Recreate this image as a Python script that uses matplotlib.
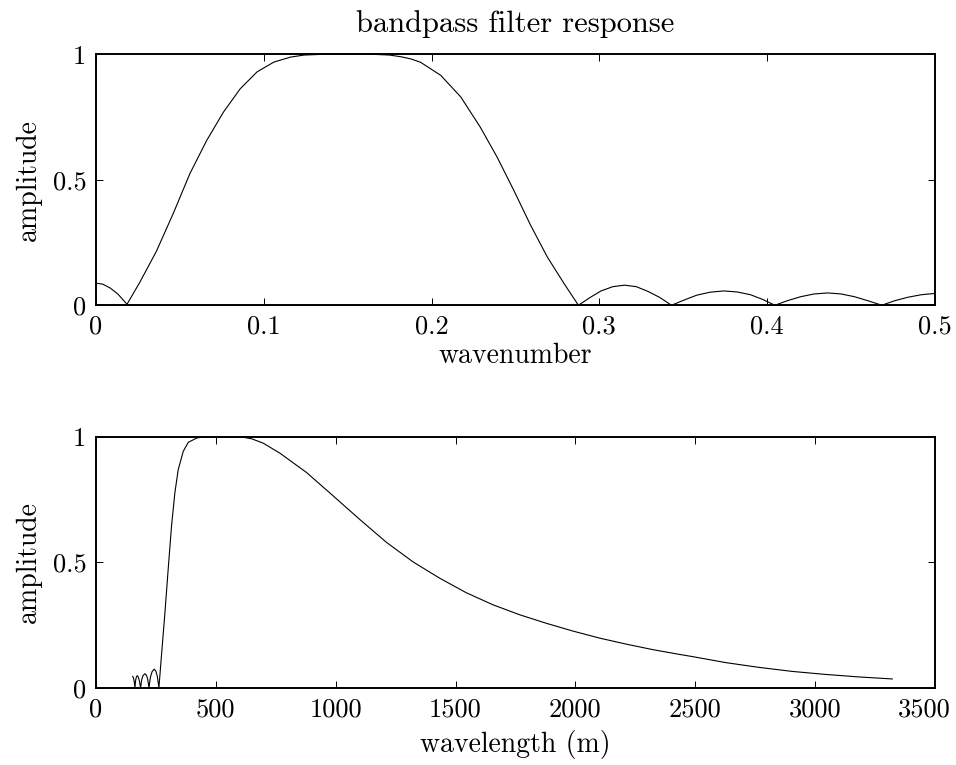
import matplotlib
matplotlib.use("Agg")
import matplotlib.pyplot as plt
from matplotlib.transforms import ScaledTranslation

plt.rcParams['font.family'] = 'serif'
plt.rcParams['font.serif'] = ['cmr10', 'DejaVu Serif']
plt.rcParams['axes.unicode_minus'] = False

# top panel: amplitude against wavenumber
wavenumber = [0.0, 0.004, 0.0084, 0.013, 0.0185, 0.026, 0.036, 0.046, 0.056, 0.066,
              0.076, 0.086, 0.096, 0.106, 0.116, 0.124, 0.135, 0.150, 0.165, 0.175,
              0.182, 0.188, 0.1935, 0.2055, 0.2174, 0.229, 0.239, 0.249, 0.259, 0.269, 0.279,
              0.2875, 0.2945, 0.301, 0.308, 0.315, 0.322, 0.329, 0.336, 0.343,
              0.351, 0.358, 0.366, 0.374, 0.382, 0.390, 0.397, 0.4046,
              0.412, 0.420, 0.428, 0.436, 0.444, 0.452, 0.460, 0.4683,
              0.476, 0.484, 0.492, 0.500]
amp_k = [0.088, 0.084, 0.069, 0.045, 0.004, 0.090, 0.215, 0.365, 0.525, 0.657,
         0.770, 0.863, 0.930, 0.969, 0.989, 0.997, 1.000, 1.000, 1.000, 0.997,
         0.990, 0.981, 0.968, 0.916, 0.830, 0.710, 0.591, 0.458, 0.319, 0.192, 0.086,
         0.0, 0.031, 0.057, 0.074, 0.080, 0.074, 0.055, 0.031, 0.0,
         0.022, 0.040, 0.052, 0.057, 0.053, 0.042, 0.024, 0.0,
         0.018, 0.034, 0.045, 0.049, 0.045, 0.034, 0.018, 0.0,
         0.018, 0.032, 0.042, 0.047]

# bottom panel: amplitude against wavelength in metres
wavelength = [153, 156, 159, 162.5, 165.5, 168.5, 172, 176, 181, 186,
              191, 196, 204, 211, 216, 221, 227, 234, 243, 250, 256, 262.5,
              274, 287.5, 301, 315, 329, 343, 364, 385, 420, 450, 520, 610, 650,
              697, 767, 878, 989, 1100, 1211, 1322, 1433, 1544, 1655, 1767, 1878,
              1989, 2100, 2211, 2322, 2433, 2489, 2628, 2767, 2905, 3044, 3183,
              3322]
amp_wl = [0.045, 0.040, 0.028, 0.0, 0.030, 0.043, 0.048, 0.044, 0.028, 0.0,
          0.033, 0.048, 0.056, 0.049, 0.033, 0.0, 0.042, 0.064, 0.074, 0.066, 0.045, 0.0,
          0.138, 0.297, 0.470, 0.643, 0.776, 0.869, 0.942, 0.978, 0.995, 1.000, 1.000, 0.999, 0.992,
          0.975, 0.935, 0.858, 0.765, 0.671, 0.580, 0.502, 0.437, 0.379, 0.331, 0.291, 0.257,
          0.226, 0.198, 0.174, 0.152, 0.133, 0.124, 0.100, 0.081, 0.065, 0.053, 0.043,
          0.035]

k_ticks = [0, 0.1, 0.2, 0.3, 0.4, 0.5]
k_labels = ['0', '0.1', '0.2', '0.3', '0.4', '0.5']
wl_ticks = [0, 500, 1000, 1500, 2000, 2500, 3000, 3500]
wl_labels = ['0', '500', '1000', '1500', '2000', '2500', '3000', '3500']
amp_ticks = [0, 0.5, 1]
amp_labels = ['0', '0.5', '1']

fs = 20
fig = plt.figure(figsize=(9.56, 7.65), dpi=100)
ax1 = fig.add_axes([0.1004, 0.601, 0.8776, 0.328])
ax2 = fig.add_axes([0.1004, 0.101, 0.8776, 0.328])


def style(ax):
    for s in ax.spines.values():
        s.set_linewidth(1.4)
    ax.tick_params(direction='in', top=True, right=True, length=5, width=0.7,
                   labelsize=19, pad=7)
    ax.set_ylim(0, 1)
    ax.set_yticks(amp_ticks)
    ax.set_yticklabels(amp_labels)
    ax.set_ylabel('amplitude', fontsize=fs, labelpad=8)


ax1.plot(wavenumber, amp_k, color='black', lw=0.8)
ax1.set_xlim(0, 0.5)
ax1.set_xticks(k_ticks)
ax1.set_xticklabels(k_labels)
ax1.set_xlabel('wavenumber', fontsize=fs, labelpad=3)
ax1.set_title('bandpass filter response', fontsize=22, pad=16)
style(ax1)

ax2.plot(wavelength, amp_wl, color='black', lw=0.8)
ax2.set_xlim(0, 3500)
ax2.set_xticks(wl_ticks)
ax2.set_xticklabels(wl_labels)
ax2.set_xlabel('wavelength (m)', fontsize=fs, labelpad=6)
style(ax2)

# nudge the last label so it stays inside the figure
last = ax2.get_xticklabels()[-1]
last.set_transform(last.get_transform() + ScaledTranslation(-8 / 72, 0, fig.dpi_scale_trans))

fig.savefig('out.png', dpi=100)
